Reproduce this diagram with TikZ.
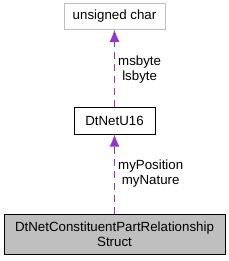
\documentclass[tikz,border=0pt]{standalone}
\usepackage{fontspec}
\setmainfont{Liberation Sans}
\usetikzlibrary{arrows.meta,positioning}
\definecolor{dxEdge}{HTML}{9A32CD}
\definecolor{dxGray}{HTML}{BFBFBF}
\tikzset{
    >=Latex,
    every picture/.style={font=\fontsize{13.3}{14.5}\selectfont},
    cls/.style={draw=black, line width=0.8pt, align=center, inner sep=0pt},
    extcls/.style={draw=dxGray, line width=0.8pt, align=center, inner sep=0pt},
    selfcls/.style={cls, fill=dxGray},
    usage/.style={-{Latex[length=12pt,width=10pt]}, line width=0.8pt, dashed, dash pattern=on 7pt off 5pt, draw=dxEdge},
    elabel/.style={align=center, inner sep=0pt, anchor=west}
}
\begin{document}
\begin{tikzpicture}[x=1pt, y=-1pt, node distance=79pt]
\useasboundingbox (0,0) rectangle (229,261);
\node[selfcls, minimum width=221pt, minimum height=40pt] (main) at (114.5,234) {DtNetConstituentPartRelationship\\Struct};
\node[cls, minimum width=81pt, minimum height=27pt, above=of main] (u16) {DtNetU16};
\node[extcls, minimum width=101pt, minimum height=26pt, above=77pt of u16.north, anchor=south] (uchar) {unsigned char};
\draw[usage] (main.north -| u16.south) -- (u16.south);
\draw[usage] (u16.north) -- (u16.north |- uchar.south);
\node[elabel] (lbytes) at (118,69.5) {msbyte\\lsbyte};
\node[elabel] (lpos) at (118,173.5) {myPosition\\myNature};
\end{tikzpicture}
\end{document}
